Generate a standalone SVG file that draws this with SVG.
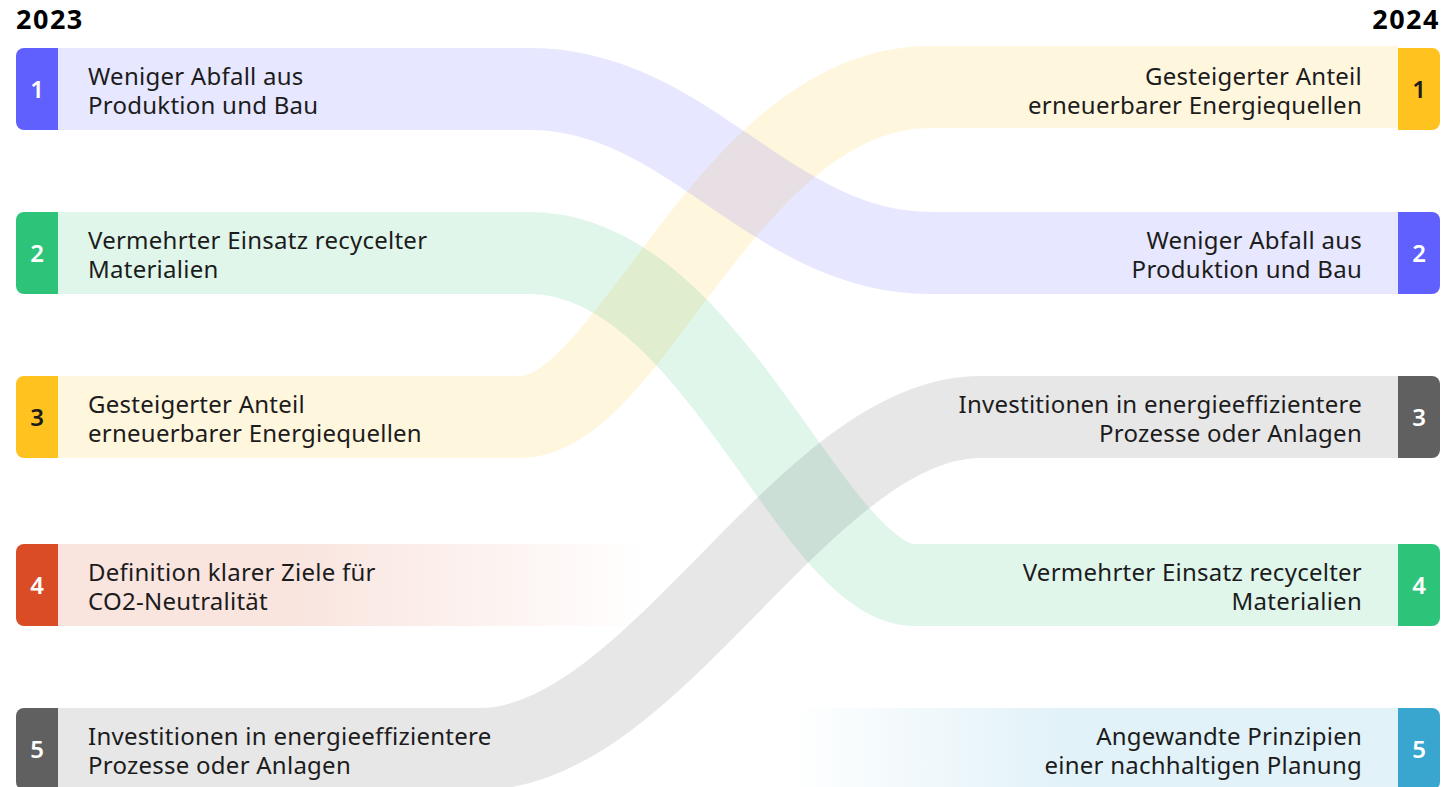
<svg xmlns="http://www.w3.org/2000/svg" width="1445" height="787" viewBox="0 0 1445 787">
<style>
.lbl{font-family:"Noto Sans","Liberation Sans",sans-serif;font-size:24px;fill:#1c1c1c;letter-spacing:0.25px}
.num{font-family:"Noto Sans","Liberation Sans",sans-serif;font-size:24px;font-weight:600;fill:#ffffff;text-anchor:middle}
.dark{fill:#1c1c1c}
.yr{font-family:"Noto Sans","Liberation Sans",sans-serif;font-size:27px;font-weight:700;fill:#000;letter-spacing:1.5px}
.end{text-anchor:end}
.link{fill:none;stroke-width:82;stroke-opacity:0.15}
</style>
<defs>
<linearGradient id="redfade" gradientUnits="userSpaceOnUse" x1="58" y1="0" x2="650" y2="0">
<stop offset="0" stop-color="#d94c26" stop-opacity="0.15"/>
<stop offset="0.4" stop-color="#d94c26" stop-opacity="0.15"/>
<stop offset="1" stop-color="#d94c26" stop-opacity="0"/>
</linearGradient>
<linearGradient id="cyanfade" gradientUnits="userSpaceOnUse" x1="790" y1="0" x2="1398" y2="0">
<stop offset="0" stop-color="#38a6cf" stop-opacity="0"/>
<stop offset="0.45" stop-color="#38a6cf" stop-opacity="0.15"/>
<stop offset="1" stop-color="#38a6cf" stop-opacity="0.15"/>
</linearGradient>
</defs>
<rect width="1445" height="787" fill="#ffffff"/>
<text class="yr" x="16" y="29">2023</text>
<text class="yr end" x="1440" y="29">2024</text>

<g id="connectors">
<path class="link" stroke="#ffc21f" d="M58 417 H520 C631 417 729 87 930 87 H1398"/>
<path class="link" stroke="#6060ff" d="M58 89 H530 C689 89 771 253 930 253 H1398"/>
<path class="link" stroke="#2dc47a" d="M58 253 H530 C712 253 812 585 915 585 H1398"/>
<path class="link" stroke="#606060" d="M58 749 H480 C654 749 806 417 980 417 H1398"/>
</g>

<g id="left-1">
<path d="M58 48 H24 A8 8 0 0 0 16 56 V122 A8 8 0 0 0 24 130 H58 Z" fill="#6060ff"/>
<text class="num" x="37" y="98">1</text>
<text class="lbl" x="88" y="85">Weniger Abfall aus</text>
<text class="lbl" x="88" y="114">Produktion und Bau</text>
</g>
<g id="left-2">
<path d="M58 212 H24 A8 8 0 0 0 16 220 V286 A8 8 0 0 0 24 294 H58 Z" fill="#2dc47a"/>
<text class="num" x="37" y="262">2</text>
<text class="lbl" x="88" y="249">Vermehrter Einsatz recycelter</text>
<text class="lbl" x="88" y="278">Materialien</text>
</g>
<g id="left-3">
<path d="M58 376 H24 A8 8 0 0 0 16 384 V450 A8 8 0 0 0 24 458 H58 Z" fill="#ffc21f"/>
<text class="num dark" x="37" y="426">3</text>
<text class="lbl" x="88" y="413">Gesteigerter Anteil</text>
<text class="lbl" x="88" y="442">erneuerbarer Energiequellen</text>
</g>
<g id="left-4">
<rect x="58" y="544" width="600" height="82" fill="url(#redfade)"/>
<path d="M58 544 H24 A8 8 0 0 0 16 552 V618 A8 8 0 0 0 24 626 H58 Z" fill="#d94c26"/>
<text class="num" x="37" y="594">4</text>
<text class="lbl" x="88" y="581">Definition klarer Ziele für</text>
<text class="lbl" x="88" y="610">CO2-Neutralität</text>
</g>
<g id="left-5">
<path d="M58 708 H24 A8 8 0 0 0 16 716 V782 A8 8 0 0 0 24 790 H58 Z" fill="#606060"/>
<text class="num" x="37" y="758">5</text>
<text class="lbl" x="88" y="745">Investitionen in energieeffizientere</text>
<text class="lbl" x="88" y="774">Prozesse oder Anlagen</text>
</g>

<g id="right-1">
<path d="M1398 48 H1432 A8 8 0 0 1 1440 56 V122 A8 8 0 0 1 1432 130 H1398 Z" fill="#ffc21f"/>
<text class="num dark" x="1419" y="98">1</text>
<text class="lbl end" x="1362" y="85">Gesteigerter Anteil</text>
<text class="lbl end" x="1362" y="114">erneuerbarer Energiequellen</text>
</g>
<g id="right-2">
<path d="M1398 212 H1432 A8 8 0 0 1 1440 220 V286 A8 8 0 0 1 1432 294 H1398 Z" fill="#6060ff"/>
<text class="num" x="1419" y="262">2</text>
<text class="lbl end" x="1362" y="249">Weniger Abfall aus</text>
<text class="lbl end" x="1362" y="278">Produktion und Bau</text>
</g>
<g id="right-3">
<path d="M1398 376 H1432 A8 8 0 0 1 1440 384 V450 A8 8 0 0 1 1432 458 H1398 Z" fill="#606060"/>
<text class="num" x="1419" y="426">3</text>
<text class="lbl end" x="1362" y="413">Investitionen in energieeffizientere</text>
<text class="lbl end" x="1362" y="442">Prozesse oder Anlagen</text>
</g>
<g id="right-4">
<path d="M1398 544 H1432 A8 8 0 0 1 1440 552 V618 A8 8 0 0 1 1432 626 H1398 Z" fill="#2dc47a"/>
<text class="num" x="1419" y="594">4</text>
<text class="lbl end" x="1362" y="581">Vermehrter Einsatz recycelter</text>
<text class="lbl end" x="1362" y="610">Materialien</text>
</g>
<g id="right-5">
<rect x="790" y="708" width="608" height="82" fill="url(#cyanfade)"/>
<path d="M1398 708 H1432 A8 8 0 0 1 1440 716 V782 A8 8 0 0 1 1432 790 H1398 Z" fill="#38a6cf"/>
<text class="num" x="1419" y="758">5</text>
<text class="lbl end" x="1362" y="745">Angewandte Prinzipien</text>
<text class="lbl end" x="1362" y="774">einer nachhaltigen Planung</text>
</g>
</svg>
